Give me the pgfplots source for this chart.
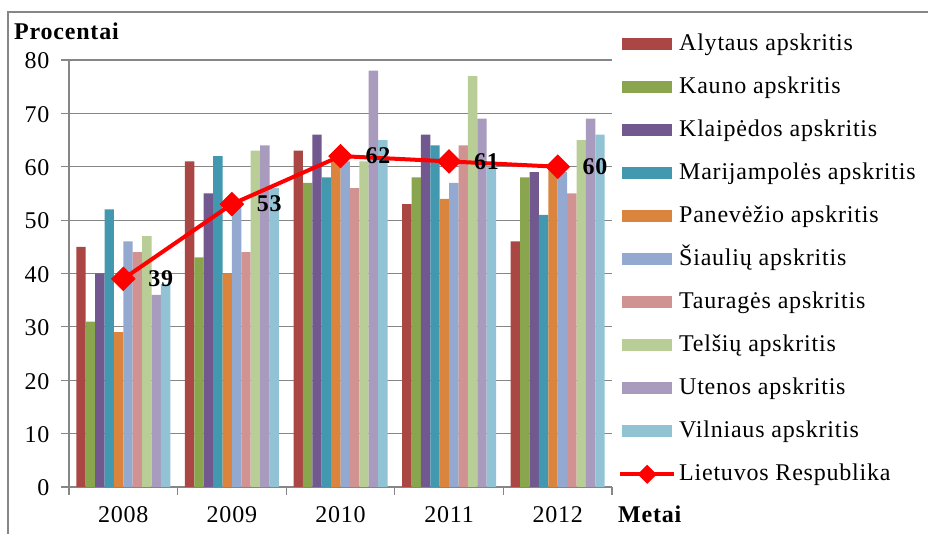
\documentclass[border=0pt]{standalone}
\usepackage{fontspec}
\setmainfont{Liberation Serif}[LetterSpace=3.3]
\usepackage{pgfplots}
\pgfplotsset{compat=1.18}
\definecolor{alyt}{RGB}{170,70,67}
\definecolor{kaun}{RGB}{137,165,78}
\definecolor{klai}{RGB}{113,88,143}
\definecolor{mari}{RGB}{65,152,175}
\definecolor{pane}{RGB}{219,132,61}
\definecolor{siau}{RGB}{147,169,207}
\definecolor{taur}{RGB}{209,147,146}
\definecolor{tels}{RGB}{185,205,150}
\definecolor{uten}{RGB}{169,155,189}
\definecolor{viln}{RGB}{145,195,213}
\definecolor{axgray}{RGB}{134,134,134}
\pgfplotsset{
  barleg/.style={legend image code/.code={\fill[##1] (0pt,-6pt) rectangle (50pt,6pt);}},
  lineleg/.style={legend image code/.code={\draw[##1, line width=4pt, mark size=4.8pt, mark repeat=2, mark phase=2]
    plot coordinates {(-2pt,0pt) (25pt,0pt) (52pt,0pt)};}},
}
\begin{document}
\begin{tikzpicture}[x=1pt,y=1pt,font=\fontsize{24}{28}\selectfont]
\useasboundingbox (-69,-47) rectangle (859,487);
\draw[axgray, line width=2pt] (-61,-47) -- (-61,475) -- (859,475);
\begin{axis}[
  at={(0,0)}, anchor=south west, scale only axis,
  width=543pt, height=427pt,
  ybar=0pt, bar width=9.4pt,
  xmin=-0.5, xmax=4.5, ymin=0, ymax=80,
  xtick={0,...,4}, xticklabels={2008,2009,2010,2011,2012},
  major x tick style={draw=none},
  minor xtick={-0.5,0.5,...,4.5},
  ytick={0,10,...,80},
  ymajorgrids, grid style={axgray, line width=1.2pt},
  axis lines=left, axis line style={axgray, line width=1.2pt, -},
  tick align=outside, major tick length=8pt, minor tick length=8pt,
  tick style={axgray, line width=1.2pt},
  yticklabel style={xshift=-8pt, yshift=-1pt},
  xticklabel style={yshift=-8pt},
  /pgf/number format/assume math mode=true,
  barleg,
  legend cell align=left,
  legend style={at={(1.011,1.063)}, anchor=north west, draw=none, fill=none,
    inner sep=0pt, row sep=21pt, column sep=3pt,
    nodes={inner sep=0pt, text height=17pt, text depth=5pt}},
]
\addplot[fill=alyt, draw=none] coordinates {(0,45) (1,61) (2,63) (3,53) (4,46)};
\addplot[fill=kaun, draw=none] coordinates {(0,31) (1,43) (2,57) (3,58) (4,58)};
\addplot[fill=klai, draw=none] coordinates {(0,40) (1,55) (2,66) (3,66) (4,59)};
\addplot[fill=mari, draw=none] coordinates {(0,52) (1,62) (2,58) (3,64) (4,51)};
\addplot[fill=pane, draw=none] coordinates {(0,29) (1,40) (2,61) (3,54) (4,60)};
\addplot[fill=siau, draw=none] coordinates {(0,46) (1,53) (2,61) (3,57) (4,59)};
\addplot[fill=taur, draw=none] coordinates {(0,44) (1,44) (2,56) (3,64) (4,55)};
\addplot[fill=tels, draw=none] coordinates {(0,47) (1,63) (2,61) (3,77) (4,65)};
\addplot[fill=uten, draw=none] coordinates {(0,36) (1,64) (2,78) (3,69) (4,69)};
\addplot[fill=viln, draw=none] coordinates {(0,38) (1,56) (2,65) (3,60) (4,66)};
\addplot[sharp plot, red, line width=4pt, mark=square*,
  mark options={rotate=45, solid, fill=red}, mark size=6.7pt,
  nodes near coords, point meta=y,
  every node near coord/.style={anchor=west, xshift=23pt, inner sep=0pt,
    font=\fontsize{24}{28}\selectfont\bfseries, text=black},
  lineleg]
  coordinates {(0,39) (1,53) (2,62) (3,61) (4,60)};
\legend{Alytaus apskritis, Kauno apskritis, Klaipėdos apskritis,
  Marijampolės apskritis, Panevėžio apskritis, Šiaulių apskritis,
  Tauragės apskritis, Telšių apskritis, Utenos apskritis,
  Vilniaus apskritis, Lietuvos Respublika}
\end{axis}
\node[anchor=base west, inner sep=0pt, font=\fontsize{24}{28}\selectfont\bfseries] at (-55,447) {Procentai};
\node[anchor=base west, inner sep=0pt, font=\fontsize{24}{28}\selectfont\bfseries] at (549,-36) {Metai};
\end{tikzpicture}
\end{document}
